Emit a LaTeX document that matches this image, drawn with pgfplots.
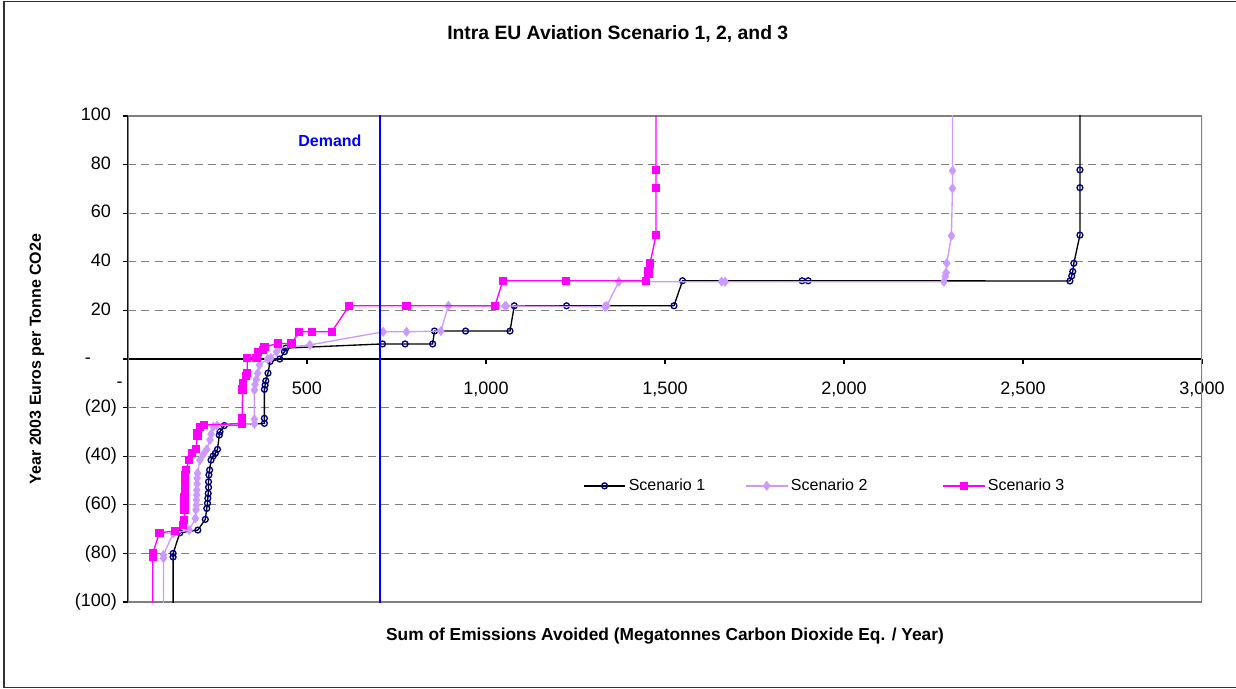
\documentclass[border=0pt]{standalone}
\usepackage{pgfplots}
\pgfplotsset{compat=1.18}
\usepackage{fontspec}
\setmainfont{Liberation Sans}
\definecolor{lav}{HTML}{CC99FF}
\definecolor{mag}{HTML}{FF00FF}
\definecolor{navyc}{HTML}{000080}
\definecolor{demandblue}{HTML}{0000FF}
\begin{document}
\begin{tikzpicture}
\begin{axis}[
  at={(0,0)}, anchor=south west,
  scale only axis, width=805.5pt, height=364.5pt,
  xmin=0, xmax=3000, ymin=-100, ymax=100,
  axis x line=middle, axis y line=left,
  axis line style={-, black, line width=0.8pt},
  hide obscured x ticks=false, hide obscured y ticks=false,
  xtick={0,500,1000,1500,2000,2500,3000},
  xticklabels={{\llap{-\hspace{4pt}}},500,{1,000},{1,500},{2,000},{2,500},{3,000}},
  ytick={-100,-80,-60,-40,-20,0,20,40,60,80,100},
  yticklabels={(100),(80),(60),(40),(20),{-\phantom{00)}\hspace{7pt}},20\phantom{)},40\phantom{)},60\phantom{)},80\phantom{)},100\phantom{)}},
  tick align=outside, major tick length=3.75pt,
  tick style={black, line width=0.8pt},
  xticklabel style={font=\fontsize{13.5}{16}\selectfont, anchor=north, yshift=-10pt},
  yticklabel style={font=\fontsize{13.5}{16}\selectfont, anchor=east, xshift=-1pt},
  ymajorgrids, grid style={dash pattern=on 6pt off 4pt, gray, line width=0.7pt},
  clip=true, clip marker paths=true,
  title={Intra EU Aviation Scenario 1, 2, and 3},
  title style={font=\bfseries\fontsize{14.5}{16}\selectfont, at={(axis description cs:0.456,1.152)}, anchor=center},
  xlabel={Sum of Emissions Avoided (Megatonnes Carbon Dioxide Eq. / Year)},
  xlabel style={font=\bfseries\fontsize{13}{15}\selectfont, at={(axis description cs:0.5,-0.07)}, anchor=center},
  ylabel={Year 2003 Euros per Tonne CO2e},
  ylabel style={font=\bfseries\fontsize{12}{14}\selectfont, at={(axis description cs:-0.0847,0.5)}, anchor=center, rotate=0},
  legend columns=3,
  legend style={at={(axis description cs:0.649,0.239)}, anchor=center, draw=none, fill=none,
    font=\fontsize{12}{14}\selectfont,
    /tikz/every even column/.append style={column sep=28pt}},
  legend image code/.code={\draw[mark repeat=2,mark phase=2] plot coordinates {(0cm,0cm) (0.55cm,0cm) (1.1cm,0cm)};},
]
\draw[gray, line width=0.8pt] (rel axis cs:0,0) rectangle (rel axis cs:1,1);

\addplot[black, line width=1pt, mark=o, mark size=2.2pt, mark options={navyc, line width=1pt}] coordinates {
(126,-110) (126,-81.5) (126,-80) (145,-71.5) (195,-70.4) (216,-66) (220,-61.5) (222,-59.4) (223,-57.3) (224,-55.3) (225,-52.8) (225,-50.5) (226,-47.7) (228,-45.7) (232,-41.6) (238,-39.9) (244,-38.8) (250,-37.2) (255,-31.3) (257,-29.9) (269,-27.4) (381,-26.5) (381,-24.4) (381,-12.5) (383,-10.7) (385,-9) (391,-5.8) (397,-1) (424,0) (437,3) (441,4.5) (711,6.2) (774,6.2) (851,6.2) (856,11.5) (943,11.5) (1067,11.5) (1079,21.9) (1225,21.9) (1525,21.9) (1549,32.2) (1883,32.2) (1900,32.2) (2631,32.1) (2636,34.2) (2639,36) (2642,39.4) (2659,51) (2659,70.5) (2659,77.8) (2659,110)
};
\addlegendentry{Scenario 1}

\addplot[lav, line width=1pt, mark=diamond*, mark size=3pt, mark options={lav}] coordinates {
(99,-110) (99,-82) (99,-80.6) (126,-71.8) (171,-70.4) (188,-65.6) (190,-62.1) (191,-60.1) (191,-58) (192,-56) (192,-53.9) (193,-51.4) (193,-49.1) (194,-47) (201,-41.6) (210,-39.3) (220,-37.2) (229,-33.3) (232,-30.9) (238,-27.9) (249,-27.4) (353,-26.7) (353,-24.8) (353,-12.8) (355,-10.5) (358,-8.5) (362,-5.9) (367,-2.5) (390,0) (399,0.4) (415,3) (420,4.5) (508,5.8) (713,11.2) (778,11.2) (874,11.5) (895,21.9) (1053,21.8) (1056,21.8) (1332,21.5) (1337,21.8) (1371,31.8) (1658,31.8) (1668,31.8) (2279,31.8) (2283,34) (2285,35.5) (2287,39.4) (2300,50.7) (2303,70.2) (2303,77.5) (2303,110)
};
\addlegendentry{Scenario 2\hspace*{26pt}\mbox{}}

\addplot[mag, line width=1pt, mark=square*, mark size=2.6pt, mark options={mag}] coordinates {
(69,-110) (69,-81.5) (69,-80) (88,-71.5) (131,-70.8) (154,-68.3) (157,-66.3) (158,-62.1) (158,-59.4) (158,-57) (159,-54) (159,-50.5) (160,-47.7) (161,-45.7) (171,-41.6) (178,-38.6) (190,-37) (194,-31.5) (194,-30.6) (201,-27.9) (212,-27.2) (319,-26.5) (319,-24.4) (320,-12.5) (322,-10) (330,-7) (333,-5.9) (333,0.5) (359,0.5) (364,3) (378,3.7) (381,5) (420,6.4) (457,6.4) (478,11.2) (513,11.2) (569,11.2) (618,21.9) (778,21.9) (1025,21.9) (1047,32.2) (1223,32.2) (1446,32.2) (1454,35.2) (1454,36.3) (1458,39.3) (1475,51) (1475,70.5) (1475,77.8) (1475,110)
};
\addlegendentry{Scenario 3}

\addplot[demandblue, line width=1.5pt, forget plot] coordinates {(704,-110) (704,110)};
\node[font=\bfseries\fontsize{12}{14}\selectfont, text=demandblue] at (axis cs:564,90) {Demand};
\end{axis}
\pgfresetboundingbox
\useasboundingbox (-96pt,-65.25pt) rectangle (831pt,451.5pt);
\draw[line width=1.2pt, black!80] (840pt,450.3pt) -- (-93pt,450.3pt) -- (-93pt,-64pt) -- (840pt,-64pt);
\end{tikzpicture}
\end{document}
